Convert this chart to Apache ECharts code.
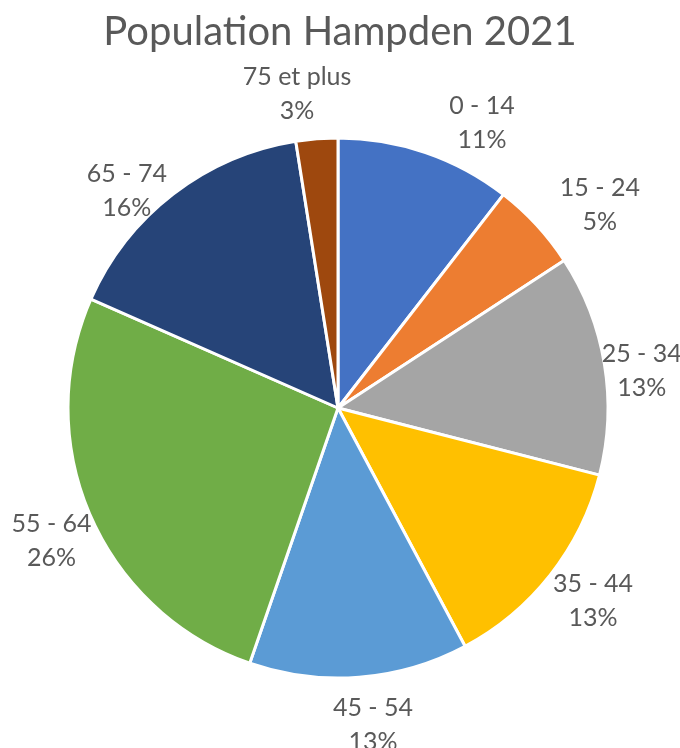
<!DOCTYPE html>
<html>
<head>
<meta charset="utf-8">
<title>Population Hampden 2021</title>
<script src="https://cdn.jsdelivr.net/npm/echarts@6/dist/echarts.min.js"></script>
<style>
	html, body { margin: 0; padding: 0; background: #fff; }
	#main { width: 680px; height: 748px; }
</style>
</head>
<body>
<div id="main"></div>
<script>
// tranches d'age, dans l'ordre horaire depuis midi
var ageGroups = ['0 - 14', '15 - 24', '25 - 34', '35 - 44', '45 - 54', '55 - 64', '65 - 74', '75 et plus'];
var shares = [10.5, 5.3, 13.2, 13.2, 13.1, 26.3, 15.9, 2.5];
var colors = ['#4472C4', '#ED7D31', '#A5A5A5', '#FFC000', '#5B9BD5', '#70AD47', '#264478', '#9E480E'];

var textColor = '#595959';
var fontName = 'Lato';

// petit decalage des etiquettes (placement "ajustement optimal" d'Excel)
var labelNudge = [[41, 16], [28, 12], [-10, 15], [5, -4], [10, 0], [5, 6], [-17, 35], [-16, 3]];

function buildData(withLabels) {
	var data = [];
	for (var i = 0; i < ageGroups.length; i++) {
		var item = { name: ageGroups[i], value: shares[i] };
		if (withLabels) {
			item.label = { offset: labelNudge[i] };
		}
		data.push(item);
	}
	return data;
}

var chart = echarts.init(document.getElementById('main'), null, { renderer: 'canvas' });
chart.setOption({
	animation: false,
	color: colors,
	title: {
		text: 'Population Hampden 2021',
		left: 'center',
		top: 7,
		textStyle: {
			color: textColor,
			fontFamily: fontName,
			fontWeight: 'normal',
			fontSize: 40
		}
	},
	series: [{
		// le camembert
		name: 'pie',
		type: 'pie',
		center: [338, 408],
		radius: [0, 270],
		startAngle: 90,
		clockwise: true,
		silent: true,
		itemStyle: {
			borderColor: '#ffffff',
			borderWidth: 3
		},
		label: { show: false },
		labelLine: { show: false },
		data: buildData(false)
	}, {
		// anneau invisible qui porte les etiquettes
		name: 'labels',
		type: 'pie',
		center: [338, 408],
		radius: [300, 330],
		startAngle: 90,
		clockwise: true,
		silent: true,
		percentPrecision: 0,
		z: 5,
		itemStyle: {
			color: 'rgba(0,0,0,0)',
			borderWidth: 0
		},
		label: {
			show: true,
			position: 'inside',
			formatter: '{b}\n{d}%',
			color: textColor,
			fontFamily: fontName,
			fontSize: 25,
			lineHeight: 34,
			align: 'center'
		},
		labelLine: { show: false },
		data: buildData(true)
	}]
});
</script>
</body>
</html>
